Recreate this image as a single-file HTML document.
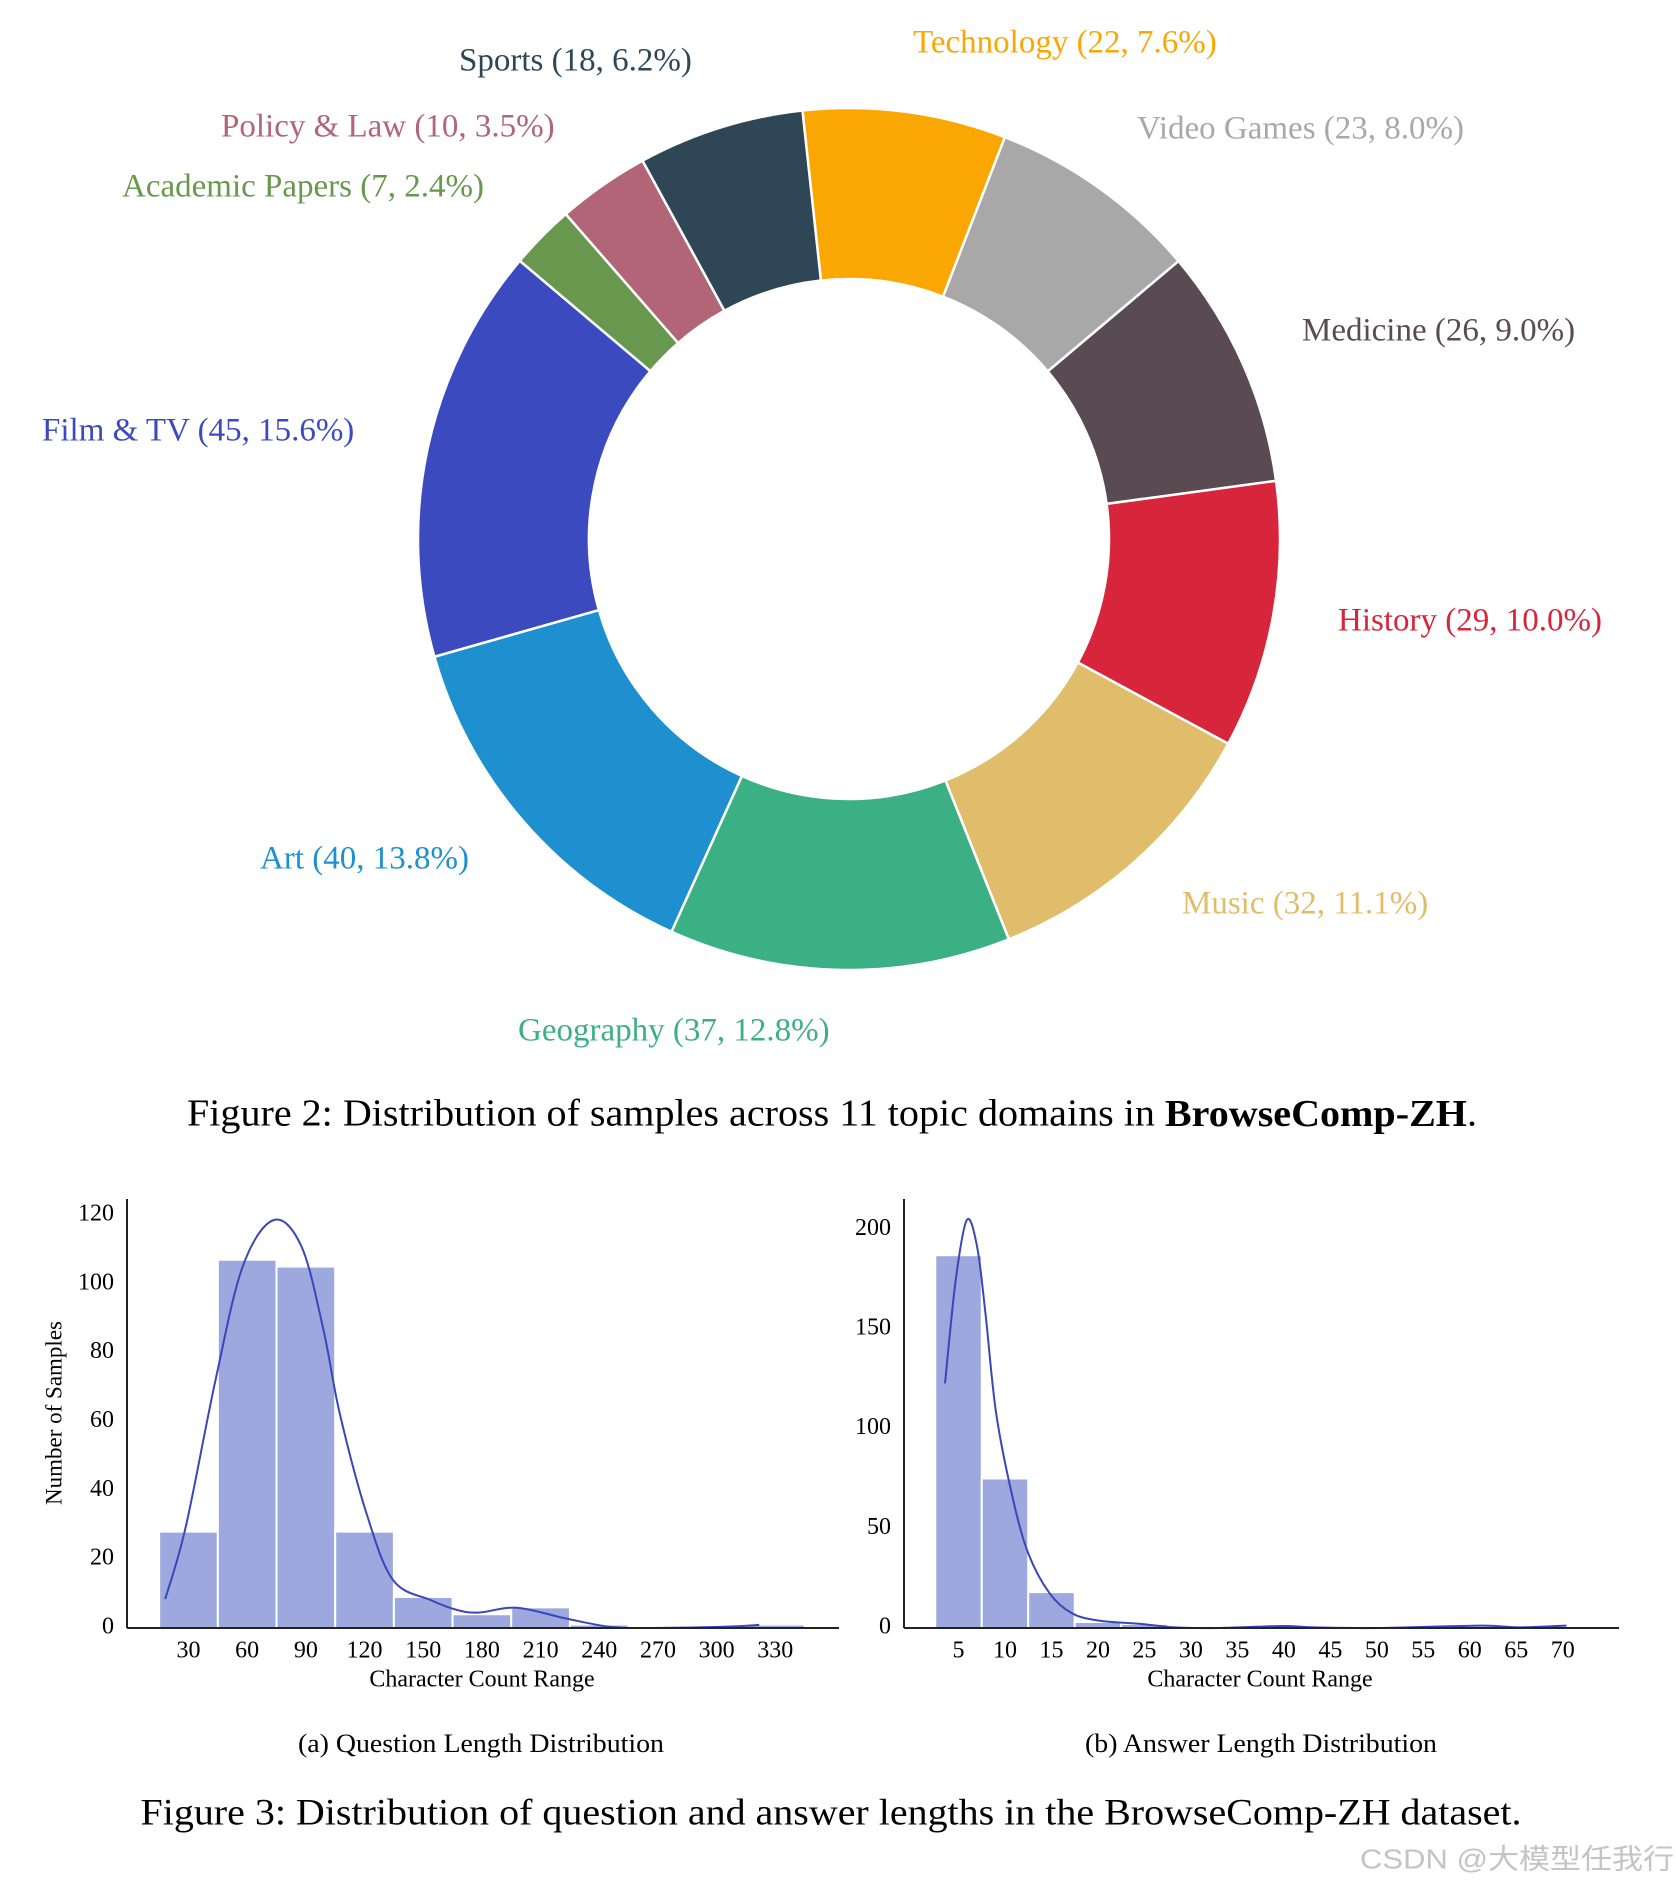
<!DOCTYPE html>
<html><head><meta charset="utf-8"><style>
html,body{margin:0;padding:0;background:#fff;}
svg{display:block;font-family:"Liberation Serif","Noto Serif CJK SC",serif;}
</style></head><body>
<svg id="fig" width="1676" height="1884" viewBox="0 0 1676 1884">
<g id="donut"></g>
<text x="832" y="1117" font-size="38" text-anchor="middle" dominant-baseline="middle" textLength="1290" lengthAdjust="spacingAndGlyphs">Figure 2: Distribution of samples across 11 topic domains in <tspan font-weight="bold">BrowseComp-ZH</tspan>.</text>
<g id="histA"></g>
<g id="histB"></g>
<text x="127" y="1413" font-size="23" text-anchor="middle" dominant-baseline="middle" transform="rotate(-90 56 1413)" dx="-71">Number of Samples</text>
<text x="481" y="1746" font-size="26" text-anchor="middle" dominant-baseline="middle" textLength="366" lengthAdjust="spacingAndGlyphs">(a) Question Length Distribution</text>
<text x="1261" y="1746" font-size="26" text-anchor="middle" dominant-baseline="middle" textLength="352" lengthAdjust="spacingAndGlyphs">(b) Answer Length Distribution</text>
<text x="831" y="1816" font-size="37" text-anchor="middle" dominant-baseline="middle" textLength="1381" lengthAdjust="spacingAndGlyphs">Figure 3: Distribution of question and answer lengths in the BrowseComp-ZH dataset.</text>
<text x="1360" y="1861" font-size="28" fill="#c4c4c4" dominant-baseline="middle" font-family="'Liberation Sans','Noto Sans CJK SC',sans-serif" textLength="314" lengthAdjust="spacingAndGlyphs">CSDN @大模型任我行</text>
</svg>
<script>
const NS="http://www.w3.org/2000/svg";
// ---- donut data ----
const domainNames=["Technology","Video Games","Medicine","History","Music","Geography","Art","Film & TV","Academic Papers","Policy & Law","Sports"];
const domainCounts=[22,23,26,29,32,37,40,45,7,10,18];
const domainPct=["7.6%","8.0%","9.0%","10.0%","11.1%","12.8%","13.8%","15.6%","2.4%","3.5%","6.2%"];
const domainColors=["#fba703","#a8a8a8","#5a4a51","#d7253c","#e0bd6a","#3bb085","#1e90cf","#3c4abf","#67984d","#b26576","#2e4656"];
const labelPos=[[913,45],[1137,131],[1302,333],[1338,623],[1182,906],[518,1033],[260,861],[42,433],[122,189],[221,129],[459,63]];

// ---- histogram A ----
const qBinCenters=[30,60,90,120,150,180,210,240,270,300,330];
const qCounts=[28,107,105,28,9,4,6,1,0,0,1];
const qTicks=[30,60,90,120,150,180,210,240,270,300,330];
const qYTicks=[0,20,40,60,80,100,120];
const qKdeX=[18.1,28.6,43.8,57.7,73.5,87.8,99,107.3,121,134.6,153.9,167.6,178.6,197.9,222.7,244.7,264,305.3,321.8];
const qKdeY=[8.4,29.4,72,105,118.5,110.8,86.6,62.4,33.3,13.9,8.1,5.2,4.5,5.9,2.8,0.4,0,0.4,0.9];

// ---- histogram B ----
const aBinCenters=[5,10,15,20,25,30,35,40,45,50,55,60,65,70];
const aCounts=[187,75,18,3,2,0,0,1,0,0,0,1,0,1];
const aTicks=[5,10,15,20,25,30,35,40,45,50,55,60,65,70];
const aYTicks=[0,50,100,150,200];
const aKdeX=[3.55,4.7,5.9,7.0,7.9,9.05,10.8,12.5,14.8,17.2,20.1,24.7,28.2,32.8,39.8,43.3,50.2,61.2,65.2,70.4];
const aKdeY=[122.7,174.6,204.7,191.3,157.8,107.7,65.9,37.5,17.4,7.4,3.7,2.0,0.3,0,1.0,0.3,0,1.2,0.3,1.2];

function mk(tag,attrs,parent){const e=document.createElementNS(NS,tag);for(const k in attrs)e.setAttribute(k,attrs[k]);parent.appendChild(e);return e;}

// donut
(function(){
  const g=document.getElementById('donut');
  const cx=849,cy=539,R=431,r=260;
  const total=domainCounts.reduce((a,b)=>a+b,0);
  let a0=-6.2*Math.PI/180;
  function pt(rad,a){return [cx+rad*Math.sin(a),cy-rad*Math.cos(a)];}
  domainCounts.forEach((c,i)=>{
    const a1=a0+c/total*2*Math.PI;
    const large=(a1-a0)>Math.PI?1:0;
    const p1=pt(R,a0),p2=pt(R,a1),p3=pt(r,a1),p4=pt(r,a0);
    const d=`M${p1[0]},${p1[1]} A${R},${R} 0 ${large} 1 ${p2[0]},${p2[1]} L${p3[0]},${p3[1]} A${r},${r} 0 ${large} 0 ${p4[0]},${p4[1]} Z`;
    const p=mk('path',{d:d,fill:domainColors[i],stroke:'#fff','stroke-width':2.5},g);
    
    
    const t=mk('text',{x:labelPos[i][0],y:labelPos[i][1],'font-size':33,fill:domainColors[i],'dominant-baseline':'middle'},g);
    t.textContent=`${domainNames[i]} (${c}, ${domainPct[i]})`;
    
    
    a0=a1;
  });
})();

function hist(gid,o){
  const g=document.getElementById(gid);
  const X=v=>o.x0+(v-o.v0)*o.kx, Y=v=>o.base-v*o.ky;
  o.centers.forEach((c,i)=>{
    const xl=X(c-o.bw/2), xr=X(c+o.bw/2);
    const b=mk('rect',{x:xl,y:Y(o.counts[i]),width:xr-xl,height:o.counts[i]*o.ky,fill:'#9da8df',stroke:'#fff','stroke-width':2},g);
    
    
  });
  const pts=o.kx_.map((v,i)=>[X(v),Y(o.ky_[i])]);
  let d='M'+pts[0].join(',');
  for(let i=0;i<pts.length-1;i++){
    const p0=pts[Math.max(0,i-1)],p1=pts[i],p2=pts[i+1],p3=pts[Math.min(pts.length-1,i+2)];
    const c1=[p1[0]+(p2[0]-p0[0])/6,p1[1]+(p2[1]-p0[1])/6],c2=[p2[0]-(p3[0]-p1[0])/6,p2[1]-(p3[1]-p1[1])/6];
    d+=` C${c1} ${c2} ${p2}`;
  }
  const l=mk('path',{d:d,fill:'none',stroke:'#3a47b8','stroke-width':2},g);
  
  
  const ya=mk('line',{x1:o.ax,y1:1199,x2:o.ax,y2:o.base,stroke:'#222','stroke-width':2},g);
  
  
  const xa=mk('line',{x1:o.ax,y1:o.base,x2:o.right,y2:o.base,stroke:'#222','stroke-width':2},g);
  
  
  o.yt.forEach(v=>{
    const t=mk('text',{x:o.ax-13,y:Y(v),'font-size':24,'text-anchor':'end','dominant-baseline':'middle'},g);
    t.textContent=v;
    
    
  });
  o.xt.forEach(v=>{
    const t=mk('text',{x:X(v),y:1652,'font-size':24,'text-anchor':'middle','dominant-baseline':'middle'},g);
    t.textContent=v;
    
    
  });
  const tt=mk('text',{x:o.tx,y:1681,'font-size':24,'text-anchor':'middle','dominant-baseline':'middle'},g);
  tt.textContent='Character Count Range';
  
  
}
hist('histA',{x0:188.5,v0:30,kx:1.956,base:1628,ky:3.442,bw:30,centers:qBinCenters,counts:qCounts,kx_:qKdeX,ky_:qKdeY,ax:127,right:839,yt:qYTicks,xt:qTicks,tx:482});
hist('histB',{x0:958.5,v0:5,kx:9.296,base:1628,ky:1.9935,bw:5,centers:aBinCenters,counts:aCounts,kx_:aKdeX,ky_:aKdeY,ax:904,right:1619,yt:aYTicks,xt:aTicks,tx:1260});
</script>
</body></html>
